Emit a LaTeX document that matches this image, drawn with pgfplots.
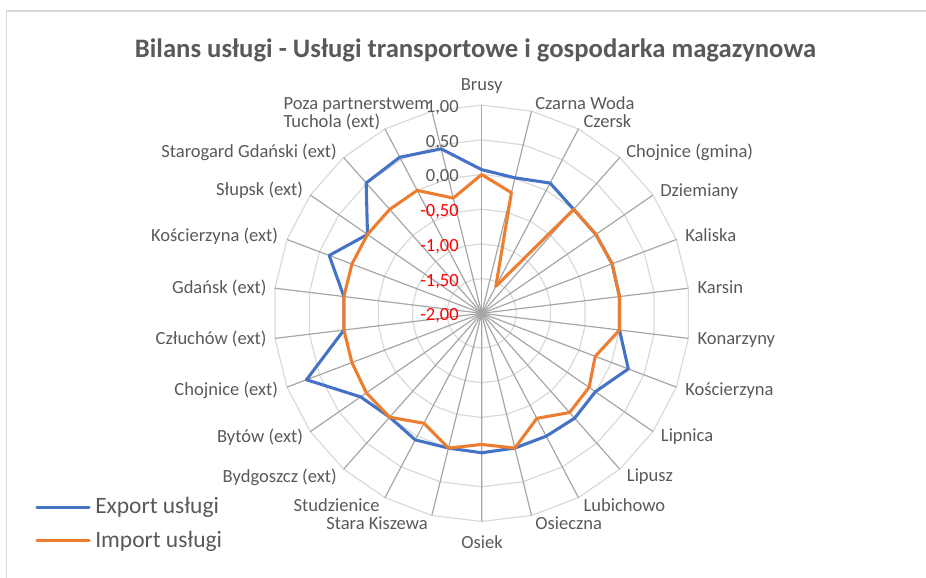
\documentclass[border=0pt]{standalone}
\usepackage{fontspec}
\setmainfont{Carlito}
\usepackage{pgfplots}
\usepackage{pgfplotstable}
\pgfplotsset{compat=1.18}

\definecolor{expblue}{HTML}{4472C4}
\definecolor{imporange}{HTML}{ED7D31}
\definecolor{txtgray}{HTML}{595959}
\definecolor{spokegray}{HTML}{A6A6A6}
\definecolor{ringgray}{HTML}{D9D9D9}

% i = category index (clockwise from top), values on the -2..1 radial scale
\pgfplotstableread{
i  exp    imp
0  0.07   0.00
1  0.01  -0.21
2  0.12  -1.56
3  0.00   0.00
4  0.00   0.00
5  0.01   0.01
6  0.00   0.00
7  0.00   0.00
8  0.26  -0.25
9 -0.01  -0.12
10 0.02  -0.09
11 0.00  -0.29
12 0.00   0.00
13 0.01  -0.11
14 0.00   0.00
15 0.06  -0.21
16 0.00   0.00
17 0.12   0.02
18 0.70   0.00
19 0.00   0.00
20 0.00   0.00
21 0.35   0.00
22 0.00   0.00
23 0.51   0.00
24 0.54   0.00
25 0.44  -0.29
26 0.07   0.00
}\radar

\newcommand{\lbl}{\fontsize{13.9}{16}\selectfont}

\begin{document}
\begin{tikzpicture}
\useasboundingbox (0,0) rectangle (694.5pt,433.5pt);
\begin{axis}[
    at={(0,0)}, anchor=south west,
    x=52.05pt, y=52.05pt,
    xmin=-6.9409, xmax=6.4020,
    ymin=-3.8141, ymax=4.5144,
    hide axis, clip=false,
]
% rings of the radial grid
\pgfplotsinvokeforeach{0.5,1,1.5,2,2.5,3}{
  \addplot[ringgray, line width=0.9pt, no markers, forget plot]
    table[x expr={#1*sin(\thisrow{i}*360/26)}, y expr={#1*cos(\thisrow{i}*360/26)}] {\radar};
}
% spokes
\pgfplotsinvokeforeach{0,...,25}{
  \draw[spokegray, line width=0.9pt] (0,0) -- ({3*sin(#1*360/26)},{3*cos(#1*360/26)});
}
\addplot[expblue, line width=2.3pt, no markers, line join=round]
  table[x expr={(\thisrow{exp}+2)*sin(\thisrow{i}*360/26)},
        y expr={(\thisrow{exp}+2)*cos(\thisrow{i}*360/26)}] {\radar};
\addplot[imporange, line width=2.3pt, no markers, line join=round]
  table[x expr={(\thisrow{imp}+2)*sin(\thisrow{i}*360/26)},
        y expr={(\thisrow{imp}+2)*cos(\thisrow{i}*360/26)}] {\radar};
\end{axis}

% text in pixel coordinates of the reference
\begin{scope}[x=0.75pt, y=-0.75pt, yshift=433.5pt, every node/.style={inner sep=0pt, text=txtgray}]
\draw[ringgray, line width=0.8pt] (6.5,578) -- (6.5,11) -- (926,11);
\node[anchor=base, font=\fontsize{20}{24}\selectfont\bfseries] at (475.5,57.7)
  {Bilans usługi - Usługi transportowe i gospodarka magazynowa};

\node[anchor=base, font=\lbl] at (481.7,91) {Brusy};
\node[anchor=base west, font=\lbl] at (535,109.3) {Czarna Woda};
\node[anchor=base west, font=\lbl] at (583.3,127.7) {Czersk};
\node[anchor=base west, font=\lbl] at (626,157.7) {Chojnice (gmina)};
\node[anchor=base west, font=\lbl] at (660,196.7) {Dziemiany};
\node[anchor=base west, font=\lbl] at (685,242) {Kaliska};
\node[anchor=base west, font=\lbl] at (697.3,293.3) {Karsin};
\node[anchor=base west, font=\lbl] at (697.3,345) {Konarzyny};
\node[anchor=base west, font=\lbl] at (685,396) {Kościerzyna};
\node[anchor=base west, font=\lbl] at (660.7,442) {Lipnica};
\node[anchor=base west, font=\lbl] at (626.7,482) {Lipusz};
\node[anchor=base west, font=\lbl] at (583.3,512) {Lubichowo};
\node[anchor=base west, font=\lbl] at (535,530) {Osieczna};
\node[anchor=base, font=\lbl] at (482,549) {Osiek};
\node[anchor=base east, font=\lbl] at (428,530) {Stara Kiszewa};
\node[anchor=base east, font=\lbl] at (380,512) {Studzienice};
\node[anchor=base east, font=\lbl] at (337,483) {Bydgoszcz (ext)};
\node[anchor=base east, font=\lbl] at (303.3,443) {Bytów (ext)};
\node[anchor=base east, font=\lbl] at (278.3,396) {Chojnice (ext)};
\node[anchor=base east, font=\lbl] at (266.7,345) {Człuchów (ext)};
\node[anchor=base east, font=\lbl] at (266.7,293.3) {Gdańsk (ext)};
\node[anchor=base east, font=\lbl] at (278.3,242) {Kościerzyna (ext)};
\node[anchor=base east, font=\lbl] at (303.3,196) {Słupsk (ext)};
\node[anchor=base east, font=\lbl] at (337,158) {Starogard Gdański (ext)};
\node[anchor=base west, font=\lbl] at (283.3,127.7) {Tuchola (ext)};
\node[anchor=base west, font=\lbl] at (283.3,109.3) {Poza partnerstwem};

% radial tick labels
\node[anchor=base east, font=\lbl] at (459,112.6) {1,00};
\node[anchor=base east, font=\lbl] at (459,147.3) {0,50};
\node[anchor=base east, font=\lbl] at (459,182.0) {0,00};
\node[anchor=base east, font=\lbl, text=red] at (459,216.6) {-0,50};
\node[anchor=base east, font=\lbl, text=red] at (459,251.3) {-1,00};
\node[anchor=base east, font=\lbl, text=red] at (459,286.1) {-1,50};
\node[anchor=base east, font=\lbl, text=red] at (459,320.8) {-2,00};

% legend
\draw[expblue, line width=2.3pt, line cap=round] (37,507.3) -- (89,507.3);
\draw[imporange, line width=2.3pt, line cap=round] (37,540.7) -- (89,540.7);
\node[anchor=base west, font=\fontsize{17.6}{21}\selectfont] at (95,514) {Export usługi};
\node[anchor=base west, font=\fontsize{17.6}{21}\selectfont] at (95,547.4) {Import usługi};
\end{scope}
\end{tikzpicture}
\end{document}
